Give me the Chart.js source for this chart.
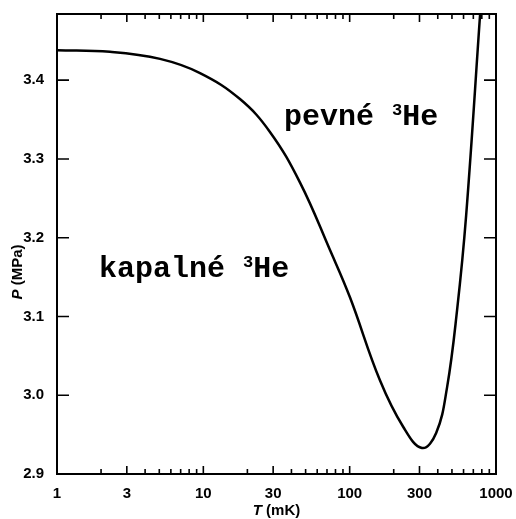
<!DOCTYPE html>
<html lang="cs">
<head>
    <meta charset="UTF-8">
    <title>Tání 3He</title>
    <script src="https://cdn.jsdelivr.net/npm/chart.js"></script>
    <style>
        html, body { margin: 0; padding: 0; background: #fff; }
        #graf { width: 516px; height: 519px; }
    </style>
</head>
<body>
    <div id="graf"><canvas id="grafTani"></canvas></div>

<script>
    // krivka taneni 3He
    const teploty = [1, 2.3, 5.06, 9.49, 17.8, 28.6, 45.8, 73.5, 100.6, 161, 232, 312, 390, 463, 542, 625, 779];
    const tlaky = [3.438, 3.436, 3.427, 3.409, 3.376, 3.334, 3.270, 3.184, 3.124, 3.019, 2.960, 2.933, 2.952, 3.010, 3.108, 3.228, 3.484];

    const popiskyX = [1, 3, 10, 30, 100, 300, 1000];
    const vedlejsiX = [2, 4, 5, 6, 7, 8, 9, 20, 40, 50, 60, 70, 80, 90, 200, 400, 500, 600, 700, 800, 900];
    const popiskyY = [2.9, 3.0, 3.1, 3.2, 3.3, 3.4];

    const fontPopisky = 'bold 15px "Liberation Sans", Arial, sans-serif';
    const fontKurziva = 'italic bold 15px "Liberation Sans", Arial, sans-serif';

    // ramecek, carky dovnitr, nazvy os a texty v grafu
    const ramecek = {
        id: 'ramecek',
        afterDraw(chart) {
            const ctx = chart.ctx;
            const a = chart.chartArea;
            const sx = chart.scales.x;
            const sy = chart.scales.y;
            ctx.save();
            ctx.strokeStyle = '#000';
            ctx.lineWidth = 2;
            ctx.strokeRect(a.left, a.top, a.right - a.left, a.bottom - a.top);

            ctx.lineWidth = 1.6;
            ctx.beginPath();
            popiskyX.forEach(v => {
                const x = sx.getPixelForValue(v);
                ctx.moveTo(x, a.bottom); ctx.lineTo(x, a.bottom - 8);
                ctx.moveTo(x, a.top); ctx.lineTo(x, a.top + 8);
            });
            vedlejsiX.forEach(v => {
                const x = sx.getPixelForValue(v);
                ctx.moveTo(x, a.bottom); ctx.lineTo(x, a.bottom - 5);
                ctx.moveTo(x, a.top); ctx.lineTo(x, a.top + 5);
            });
            popiskyY.forEach(v => {
                const y = sy.getPixelForValue(v);
                ctx.moveTo(a.left, y); ctx.lineTo(a.left + 12, y);
                ctx.moveTo(a.right, y); ctx.lineTo(a.right - 12, y);
            });
            ctx.stroke();

            // nazvy os
            ctx.fillStyle = '#000';
            ctx.textBaseline = 'middle';
            ctx.textAlign = 'left';
            ctx.font = fontKurziva;
            const tw = ctx.measureText('T').width;
            ctx.font = fontPopisky;
            const zbytek = ' (mK)';
            const sx0 = (a.left + a.right) / 2 - (tw + ctx.measureText(zbytek).width) / 2;
            ctx.font = fontKurziva;
            ctx.fillText('T', sx0, 511);
            ctx.font = fontPopisky;
            ctx.fillText(zbytek, sx0 + tw, 511);

            ctx.save();
            ctx.translate(18, 272);
            ctx.rotate(-Math.PI / 2);
            ctx.font = fontKurziva;
            const pw = ctx.measureText('P').width;
            ctx.font = fontPopisky;
            const zbytekP = ' (MPa)';
            const celkemP = pw + ctx.measureText(zbytekP).width;
            ctx.font = fontKurziva;
            ctx.fillText('P', -celkemP / 2, 0);
            ctx.font = fontPopisky;
            ctx.fillText(zbytekP, -celkemP / 2 + pw, 0);
            ctx.restore();

            // texty faze
            ctx.textBaseline = 'alphabetic';
            const napis = (text, x, y) => {
                ctx.font = 'bold 30px "Liberation Mono", "Courier New", monospace';
                ctx.fillText(text, x, y);
                let w = ctx.measureText(text + ' ').width;
                ctx.font = 'bold 17px "Liberation Mono", "Courier New", monospace';
                ctx.fillText('3', x + w, y - 10);
                w += ctx.measureText('3').width;
                ctx.font = 'bold 30px "Liberation Mono", "Courier New", monospace';
                ctx.fillText('He', x + w, y);
            };
            napis('pevné', 284, 125);
            napis('kapalné', 99, 277);
            ctx.restore();
        }
    };

    new Chart(document.getElementById('grafTani').getContext('2d'), {
        type: 'line',
        data: {
            datasets: [{
                data: teploty.map((t, i) => ({ x: t, y: tlaky[i] })),
                borderColor: '#000',
                borderWidth: 2.5,
                pointRadius: 0,
                tension: 0.4,
                fill: false
            }]
        },
        options: {
            responsive: true,
            maintainAspectRatio: false,
            animation: false,
            layout: { padding: { top: 13, right: 20, left: 0, bottom: 0 } },
            plugins: {
                legend: { display: false },
                tooltip: { enabled: false }
            },
            scales: {
                x: {
                    type: 'logarithmic',
                    min: 1,
                    max: 1000,
                    grid: { display: false },
                    border: { display: false },
                    afterBuildTicks: s => { s.ticks = popiskyX.map(v => ({ value: v })); },
                    afterFit: s => { s.height = 45; },
                    ticks: {
                        autoSkip: false,
                        maxRotation: 0,
                        padding: 3,
                        color: '#000',
                        font: { family: '"Liberation Sans", Arial, sans-serif', size: 15, weight: 'bold' },
                        callback: v => String(v)
                    }
                },
                y: {
                    min: 2.9,
                    max: 3.484,
                    grid: { display: false },
                    border: { display: false },
                    afterBuildTicks: s => { s.ticks = popiskyY.map(v => ({ value: v })); },
                    afterFit: s => { s.width = 57; },
                    ticks: {
                        padding: 5,
                        color: '#000',
                        font: { family: '"Liberation Sans", Arial, sans-serif', size: 15, weight: 'bold' },
                        callback: v => v.toFixed(1)
                    }
                }
            }
        },
        plugins: [ramecek]
    });
</script>
</body>
</html>
